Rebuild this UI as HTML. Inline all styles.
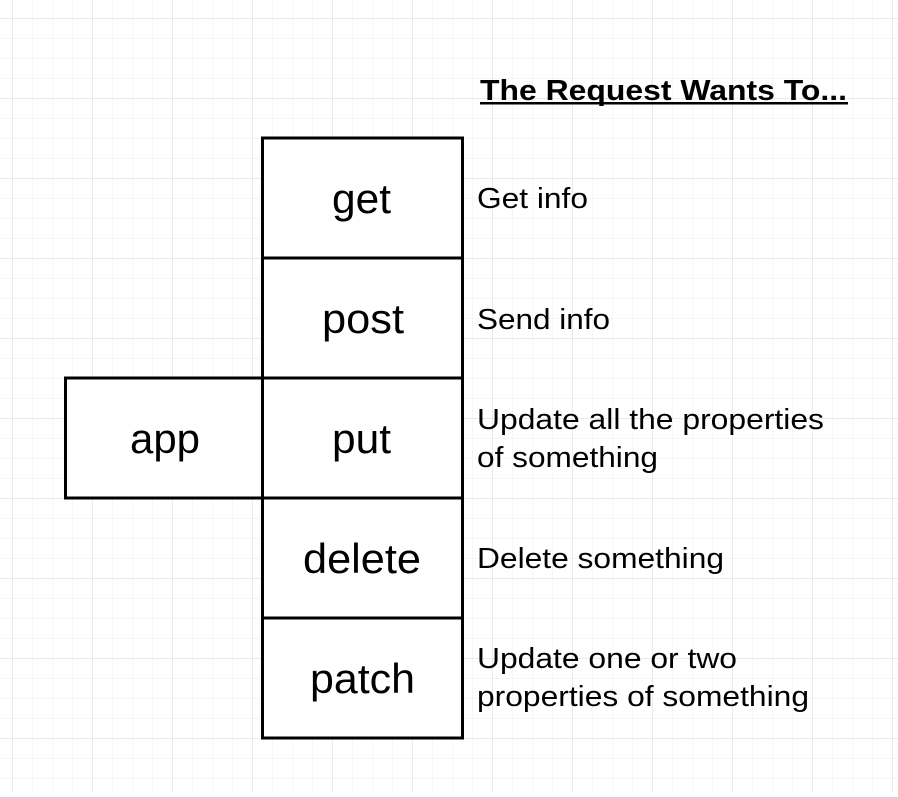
<!DOCTYPE html>
<html><head><meta charset="utf-8"><style>
html,body{margin:0;padding:0;background:#fff}
</style></head><body>
<svg width="898" height="792" xmlns="http://www.w3.org/2000/svg" font-family="Liberation Sans, Helvetica, Arial, sans-serif">
<defs>
<pattern id="minor" x="12" y="18" width="20" height="20" patternUnits="userSpaceOnUse">
<path d="M0 0H20M0 0V20" stroke="#f3f3f3" stroke-width="1.5" fill="none"/>
</pattern>
<pattern id="major" x="12" y="18" width="80" height="80" patternUnits="userSpaceOnUse">
<path d="M0 0H80M0 0V80" stroke="#dcdcdc" stroke-width="1" fill="none"/>
</pattern>
</defs>
<rect width="898" height="792" fill="#fff"/>
<rect width="898" height="792" fill="url(#minor)"/>
<rect width="898" height="792" fill="url(#major)"/>
<g fill="#fff" stroke="#000" stroke-width="3">
<rect x="262.5" y="138" width="200" height="120"/>
<rect x="262.5" y="258" width="200" height="120"/>
<rect x="262.5" y="378" width="200" height="120"/>
<rect x="262.5" y="498" width="200" height="120"/>
<rect x="262.5" y="618" width="200" height="120"/>
<rect x="65.5" y="378" width="197" height="120"/>
</g>
<g font-size="42" fill="#000" lengthAdjust="spacingAndGlyphs">
<text x="332" y="213" textLength="59" lengthAdjust="spacingAndGlyphs">get</text>
<text x="322" y="333" textLength="82" lengthAdjust="spacingAndGlyphs">post</text>
<text x="332" y="453" textLength="59" lengthAdjust="spacingAndGlyphs">put</text>
<text x="303" y="573" textLength="118" lengthAdjust="spacingAndGlyphs">delete</text>
<text x="310" y="693" textLength="105" lengthAdjust="spacingAndGlyphs">patch</text>
<text x="130" y="453" textLength="70" lengthAdjust="spacingAndGlyphs">app</text>
</g>
<text x="480" y="100" font-size="29" font-weight="bold" textLength="367" lengthAdjust="spacingAndGlyphs">The Request Wants To...</text>
<rect x="480" y="102" width="368" height="2.5" fill="#000"/>
<g font-size="29" fill="#000">
<text x="477" y="208" textLength="111" lengthAdjust="spacingAndGlyphs">Get info</text>
<text x="477" y="329" textLength="133" lengthAdjust="spacingAndGlyphs">Send info</text>
<text x="477" y="429" textLength="347" lengthAdjust="spacingAndGlyphs">Update all the properties</text>
<text x="477" y="467" textLength="181" lengthAdjust="spacingAndGlyphs">of something</text>
<text x="477" y="568" textLength="247" lengthAdjust="spacingAndGlyphs">Delete something</text>
<text x="477" y="668" textLength="260" lengthAdjust="spacingAndGlyphs">Update one or two</text>
<text x="477" y="706" textLength="332" lengthAdjust="spacingAndGlyphs">properties of something</text>
</g>
</svg>
</body></html>
